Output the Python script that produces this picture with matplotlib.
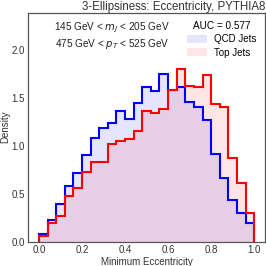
import numpy as np
import matplotlib
matplotlib.use("Agg")
import matplotlib.pyplot as plt
from matplotlib.patches import Patch

plt.rcParams['font.family'] = ['Liberation Sans', 'DejaVu Sans']

# bin edges, 25 bins of width 0.04
edges = np.linspace(0.0, 1.0, 26)

qcd_density = [0.080, 0.226, 0.393, 0.580, 0.719, 0.903, 1.087, 1.19, 1.24, 1.36,
               1.275, 1.45, 1.61, 1.57, 1.75, 1.58, 1.61, 1.46, 1.40, 1.27,
               0.91, 0.66, 0.435, 0.295, 0.20]
top_density = [0.059, 0.20, 0.27, 0.48, 0.56, 0.73, 0.83, 0.83, 1.02, 1.05,
               1.07, 1.16, 1.36, 1.34, 1.38, 1.58, 1.80, 1.625, 1.615, 1.74,
               1.44, 1.41, 0.875, 0.61, 0.296]

auc = 0.577
mass_text = "145 GeV < $m_J$ < 205 GeV"
pt_text = "475 GeV < $p_T$ < 525 GeV"

fig = plt.figure(figsize=(2.66, 2.66), dpi=100)
ax = fig.add_axes([0.106, 0.091, 0.890, 0.862])

# filled areas
ax.stairs(qcd_density, edges, fill=True, color='blue', alpha=0.1, linewidth=0)
ax.stairs(top_density, edges, fill=True, color='red', alpha=0.1, linewidth=0)
# outlines
ax.stairs(qcd_density, edges, baseline=0, color='blue', linewidth=1.5)
ax.stairs(top_density, edges, baseline=0, color='red', linewidth=1.5)

ax.set_xlim(-0.05, 1.05)
ax.set_ylim(0, 2.39)
ax.set_xticks([0.0, 0.2, 0.4, 0.6, 0.8, 1.0])
ax.set_yticks([0.0, 0.5, 1.0, 1.5, 2.0])
ax.tick_params(labelsize=7, length=0, colors='#333333', pad=2.5)
for s in ax.spines.values():
    s.set_color('#555555')
    s.set_linewidth(0.9)

ax.set_xlabel("Minimum Eccentricity", fontsize=7, color='#333333', labelpad=1)
ax.set_ylabel("Density", fontsize=7, color='#333333', labelpad=1)
ax.set_title("3-Ellipsiness: Eccentricity, PYTHIA8", loc='right', fontsize=8.3,
             color='#333333', pad=2)

ax.text(0.355, 0.965, mass_text + "\n" + pt_text, transform=ax.transAxes,
        ha='center', va='top', fontsize=7.2, color='#222222', linespacing=1.2)

handles = [Patch(facecolor='blue', alpha=0.1, edgecolor='none'),
           Patch(facecolor='red', alpha=0.1, edgecolor='none')]
leg = ax.legend(handles, ["QCD Jets", "Top Jets"], title="AUC = %.3f" % auc,
                loc='upper right', frameon=False, fontsize=7, title_fontsize=7.2,
                handlelength=2.0, handleheight=0.9, borderaxespad=0.45,
                labelspacing=0.35)

fig.savefig("out.png", dpi=100)
